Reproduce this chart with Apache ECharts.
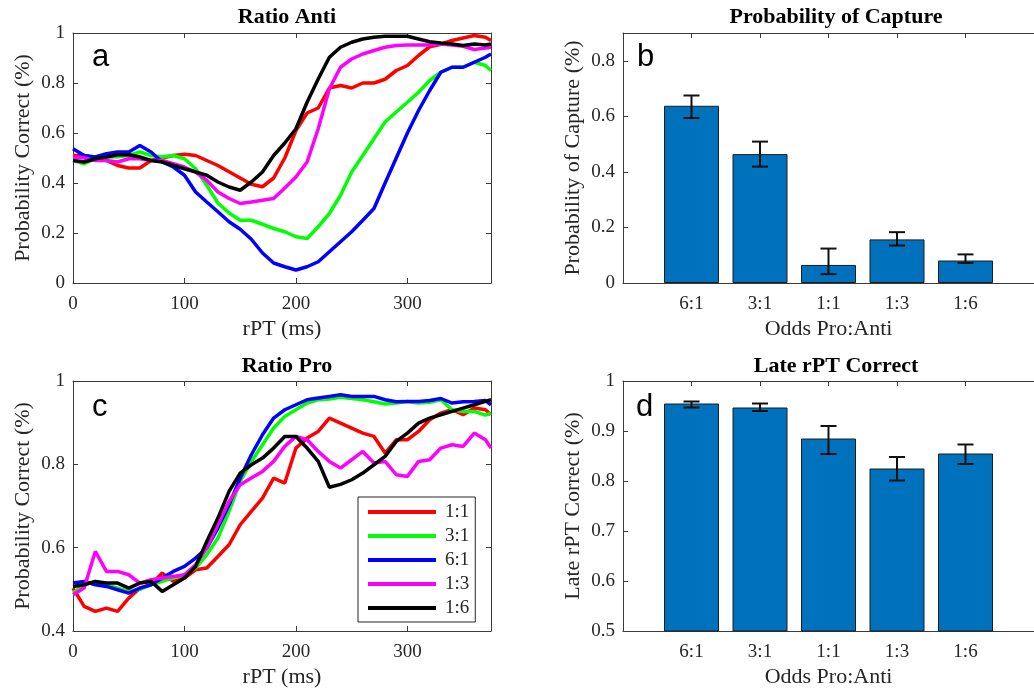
<!DOCTYPE html>
<html>
<head>
<meta charset="utf-8">
<title>Ratio Anti / Pro</title>
<script src="https://cdn.jsdelivr.net/npm/echarts@6/dist/echarts.min.js"></script>
<style>
  html, body { margin: 0; padding: 0; background: #fff; }
  #chart { width: 1034px; height: 691px; }
</style>
</head>
<body>
<div id="chart"></div>
<script>
// time axis shared by the rPT curves (ms)
const rptMs = [0, 10, 20, 30, 40, 50, 60, 70, 80, 90, 100, 110, 120, 130, 140, 150, 160, 170, 180, 190,
  200, 210, 220, 230, 240, 250, 260, 270, 280, 290, 300, 310, 320, 330, 340, 350, 360, 370, 375];

// panel a - Ratio Anti
const antiR11 = [0.51, 0.51, 0.50, 0.49, 0.47, 0.46, 0.46, 0.49, 0.50, 0.51, 0.515, 0.51, 0.49, 0.47, 0.445, 0.42, 0.395, 0.385, 0.42, 0.50,
  0.61, 0.68, 0.70, 0.78, 0.79, 0.78, 0.80, 0.80, 0.815, 0.85, 0.87, 0.91, 0.945, 0.955, 0.97, 0.98, 0.99, 0.983, 0.97];
const antiR31 = [0.49, 0.477, 0.497, 0.504, 0.505, 0.51, 0.524, 0.51, 0.504, 0.51, 0.497, 0.457, 0.391, 0.32, 0.28, 0.251, 0.251, 0.235, 0.218, 0.205,
  0.185, 0.178, 0.225, 0.278, 0.351, 0.444, 0.51, 0.577, 0.644, 0.684, 0.723, 0.763, 0.81, 0.843, 0.863, 0.863, 0.883, 0.87, 0.85];
const antiR61 = [0.537, 0.51, 0.504, 0.517, 0.524, 0.524, 0.55, 0.524, 0.484, 0.464, 0.431, 0.364, 0.324, 0.285, 0.245, 0.215, 0.175, 0.12, 0.08, 0.065,
  0.052, 0.065, 0.085, 0.125, 0.165, 0.205, 0.251, 0.298, 0.40, 0.50, 0.60, 0.69, 0.77, 0.843, 0.863, 0.863, 0.883, 0.903, 0.916];
const antiR13 = [0.504, 0.50, 0.49, 0.49, 0.484, 0.497, 0.497, 0.49, 0.49, 0.477, 0.464, 0.444, 0.411, 0.364, 0.338, 0.318, 0.324, 0.331, 0.338, 0.38,
  0.424, 0.484, 0.617, 0.777, 0.863, 0.896, 0.916, 0.93, 0.943, 0.95, 0.952, 0.952, 0.952, 0.956, 0.952, 0.947, 0.934, 0.94, 0.943];
const antiR16 = [0.49, 0.484, 0.497, 0.504, 0.513, 0.513, 0.504, 0.49, 0.484, 0.471, 0.457, 0.444, 0.431, 0.404, 0.384, 0.371, 0.404, 0.444, 0.51, 0.56,
  0.617, 0.723, 0.816, 0.903, 0.943, 0.963, 0.976, 0.983, 0.987, 0.987, 0.987, 0.976, 0.965, 0.96, 0.956, 0.95, 0.956, 0.952, 0.956];

// panel c - Ratio Pro
const proR11 = [0.503, 0.459, 0.447, 0.455, 0.447, 0.479, 0.503, 0.511, 0.539, 0.519, 0.527, 0.547, 0.551, 0.579, 0.607, 0.655, 0.687, 0.719, 0.767, 0.755,
  0.839, 0.863, 0.879, 0.911, 0.899, 0.887, 0.875, 0.867, 0.827, 0.859, 0.859, 0.879, 0.907, 0.923, 0.931, 0.919, 0.935, 0.931, 0.919];
const proR31 = [0.491, 0.511, 0.519, 0.511, 0.503, 0.495, 0.50, 0.511, 0.519, 0.527, 0.535, 0.551, 0.583, 0.623, 0.687, 0.759, 0.807, 0.847, 0.887, 0.915,
  0.931, 0.947, 0.955, 0.957, 0.961, 0.958, 0.955, 0.95, 0.945, 0.947, 0.951, 0.947, 0.949, 0.955, 0.931, 0.927, 0.927, 0.918, 0.923];
const proR61 = [0.515, 0.519, 0.511, 0.507, 0.499, 0.491, 0.503, 0.511, 0.527, 0.543, 0.555, 0.575, 0.599, 0.647, 0.703, 0.767, 0.823, 0.871, 0.911, 0.931,
  0.943, 0.955, 0.959, 0.963, 0.967, 0.963, 0.963, 0.963, 0.955, 0.95, 0.951, 0.951, 0.953, 0.958, 0.947, 0.95, 0.951, 0.953, 0.943];
const proR13 = [0.487, 0.503, 0.591, 0.543, 0.543, 0.535, 0.515, 0.523, 0.527, 0.531, 0.535, 0.559, 0.599, 0.655, 0.711, 0.751, 0.767, 0.783, 0.807, 0.843,
  0.867, 0.859, 0.831, 0.807, 0.791, 0.811, 0.831, 0.803, 0.807, 0.775, 0.771, 0.807, 0.811, 0.839, 0.847, 0.843, 0.875, 0.859, 0.839];
const proR16 = [0.507, 0.511, 0.519, 0.515, 0.515, 0.503, 0.515, 0.519, 0.495, 0.511, 0.527, 0.555, 0.615, 0.671, 0.735, 0.779, 0.799, 0.815, 0.839, 0.867,
  0.867, 0.839, 0.807, 0.745, 0.752, 0.763, 0.779, 0.799, 0.819, 0.855, 0.875, 0.899, 0.911, 0.919, 0.927, 0.935, 0.943, 0.951, 0.955];

// bar panels
const oddsLabels = ['6:1', '3:1', '1:1', '1:3', '1:6'];
const captureMean = [0.638, 0.464, 0.065, 0.157, 0.081];
const captureLow = [0.594, 0.419, 0.032, 0.135, 0.072];
const captureHigh = [0.675, 0.509, 0.124, 0.183, 0.103];
const lateMean = [0.955, 0.947, 0.885, 0.825, 0.855];
const lateLow = [0.947, 0.940, 0.854, 0.801, 0.834];
const lateHigh = [0.959, 0.955, 0.910, 0.848, 0.873];

const serif = 'Liberation Serif';
const axisCol = '#3a3a3a';
const textCol = '#262626';

const chart = echarts.init(document.getElementById('chart'));

function bottomX(gridIndex, min, max, ticks, fmt, name) {
  return {
    type: 'value', gridIndex, min, max, position: 'bottom',
    name, nameLocation: 'middle', nameGap: 35,
    nameTextStyle: { fontFamily: serif, fontSize: 22, color: textCol },
    axisLine: { show: true, onZero: false, lineStyle: { color: axisCol, width: 1 } },
    axisTick: { show: true, inside: true, length: 5, customValues: ticks, lineStyle: { color: axisCol } },
    axisLabel: { customValues: ticks, formatter: fmt, fontFamily: serif, fontSize: 19, color: textCol, margin: 12 },
    splitLine: { show: false }
  };
}
function topX(gridIndex, min, max, ticks) {
  return {
    type: 'value', gridIndex, min, max, position: 'top',
    axisLine: { show: true, onZero: false, lineStyle: { color: axisCol, width: 1 } },
    axisTick: { show: true, inside: true, length: 5, customValues: ticks, lineStyle: { color: axisCol } },
    axisLabel: { show: false },
    splitLine: { show: false }
  };
}
function leftY(gridIndex, min, max, ticks, name) {
  return {
    type: 'value', gridIndex, min, max, position: 'left',
    name, nameLocation: 'middle', nameGap: 39,
    nameTextStyle: { fontFamily: serif, fontSize: 22, color: textCol },
    axisLine: { show: true, onZero: false, lineStyle: { color: axisCol, width: 1 } },
    axisTick: { show: true, inside: true, length: 5, customValues: ticks, lineStyle: { color: axisCol } },
    axisLabel: { customValues: ticks, fontFamily: serif, fontSize: 19, color: textCol, margin: 8 },
    splitLine: { show: false }
  };
}
function rightY(gridIndex, min, max, ticks) {
  return {
    type: 'value', gridIndex, min, max, position: 'right',
    axisLine: { show: true, onZero: false, lineStyle: { color: axisCol, width: 1 } },
    axisTick: { show: true, inside: true, length: 5, customValues: ticks, lineStyle: { color: axisCol } },
    axisLabel: { show: false },
    splitLine: { show: false }
  };
}

function lineSeries(name, values, color, xi, yi) {
  return {
    type: 'line', name, xAxisIndex: xi, yAxisIndex: yi,
    data: rptMs.map((t, i) => [t, values[i]]),
    showSymbol: false, symbol: 'none',
    lineStyle: { color, width: 3.5 }, itemStyle: { color },
    animation: false
  };
}

function barSeries(values, xi, yi) {
  return {
    type: 'bar', xAxisIndex: xi, yAxisIndex: yi,
    data: values.map((v, i) => [i + 1, v]),
    barWidth: 55,
    itemStyle: { color: '#0072BD', borderColor: '#1d1d1d', borderWidth: 1 },
    animation: false
  };
}

function errorSeries(low, high, xi, yi) {
  return {
    type: 'custom', xAxisIndex: xi, yAxisIndex: yi, z: 5,
    data: low.map((v, i) => [i + 1, v, high[i]]),
    encode: { x: 0, y: [1, 2] },
    renderItem(params, api) {
      const x = api.value(0);
      const lo = api.coord([x, api.value(1)]);
      const hi = api.coord([x, api.value(2)]);
      const w = 8;
      const style = { stroke: '#111', lineWidth: 2 };
      return {
        type: 'group',
        children: [
          { type: 'line', shape: { x1: lo[0], y1: lo[1], x2: hi[0], y2: hi[1] }, style },
          { type: 'line', shape: { x1: hi[0] - w, y1: hi[1], x2: hi[0] + w, y2: hi[1] }, style },
          { type: 'line', shape: { x1: lo[0] - w, y1: lo[1], x2: lo[0] + w, y2: lo[1] }, style }
        ]
      };
    },
    animation: false
  };
}

const oddsFmt = v => oddsLabels[Math.round(v) - 1] || '';
const catTicks = [1, 2, 3, 4, 5];
const names = ['1:1', '3:1', '6:1', '1:3', '1:6'];
const colors = ['#ff0000', '#00ff00', '#0000ff', '#ff00ff', '#000000'];
const antiSets = [antiR11, antiR31, antiR61, antiR13, antiR16];
const proSets = [proR11, proR31, proR61, proR13, proR16];

const titleStyle = { fontFamily: serif, fontSize: 22, fontWeight: 'bold', color: '#000' };
const letterStyle = { fontFamily: 'Liberation Sans', fontSize: 31, fill: '#000', verticalAlign: 'middle' };

const option = {
  backgroundColor: '#fff',
  animation: false,
  title: [
    { text: 'Ratio Anti', left: 282, top: 1, textAlign: 'center', textStyle: titleStyle },
    { text: 'Probability of Capture', left: 831, top: 1, textAlign: 'center', textStyle: titleStyle },
    { text: 'Ratio Pro', left: 282, top: 350, textAlign: 'center', textStyle: titleStyle },
    { text: 'Late rPT Correct', left: 831, top: 350, textAlign: 'center', textStyle: titleStyle }
  ],
  grid: [
    { left: 73, top: 33, width: 418, height: 250 },
    { left: 623, top: 33, width: 416, height: 250 },
    { left: 73, top: 381, width: 418, height: 250 },
    { left: 623, top: 381, width: 416, height: 250 }
  ],
  xAxis: [
    bottomX(0, 0, 375, [0, 100, 200, 300], null, 'rPT (ms)'),
    topX(0, 0, 375, [100, 200, 300]),
    bottomX(1, 0, 6, catTicks, oddsFmt, 'Odds Pro:Anti'),
    topX(1, 0, 6, catTicks),
    bottomX(2, 0, 375, [0, 100, 200, 300], null, 'rPT (ms)'),
    topX(2, 0, 375, [100, 200, 300]),
    bottomX(3, 0, 6, catTicks, oddsFmt, 'Odds Pro:Anti'),
    topX(3, 0, 6, catTicks)
  ],
  yAxis: [
    leftY(0, 0, 1, [0, 0.2, 0.4, 0.6, 0.8, 1], 'Probability Correct (%)'),
    rightY(0, 0, 1, [0.2, 0.4, 0.6, 0.8]),
    leftY(1, 0, 0.9, [0, 0.2, 0.4, 0.6, 0.8], 'Probability of Capture (%)'),
    leftY(2, 0.4, 1, [0.4, 0.6, 0.8, 1], 'Probability Correct (%)'),
    rightY(2, 0.4, 1, [0.6, 0.8]),
    leftY(3, 0.5, 1, [0.5, 0.6, 0.7, 0.8, 0.9, 1], 'Late rPT Correct (%)')
  ],
  legend: {
    data: names,
    orient: 'vertical',
    left: 358, top: 497,
    icon: 'rect', itemWidth: 68, itemHeight: 4, itemGap: 4,
    borderColor: '#262626', borderWidth: 1,
    padding: [5, 6, 4, 10],
    textStyle: { fontFamily: serif, fontSize: 19, color: textCol, lineHeight: 20, padding: [0, 0, 0, 4] },
    selectedMode: false
  },
  graphic: [
    { type: 'text', left: 92, top: 42, style: Object.assign({ text: 'a' }, letterStyle) },
    { type: 'text', left: 637, top: 42, style: Object.assign({ text: 'b' }, letterStyle) },
    { type: 'text', left: 92, top: 392, style: Object.assign({ text: 'c' }, letterStyle) },
    { type: 'text', left: 636, top: 392, style: Object.assign({ text: 'd' }, letterStyle) }
  ],
  series: [
    ...antiSets.map((v, i) => lineSeries(names[i], v, colors[i], 0, 0)),
    barSeries(captureMean, 2, 2),
    errorSeries(captureLow, captureHigh, 2, 2),
    ...proSets.map((v, i) => lineSeries(names[i], v, colors[i], 4, 3)),
    barSeries(lateMean, 6, 5),
    errorSeries(lateLow, lateHigh, 6, 5)
  ]
};

chart.setOption(option);
</script>
</body>
</html>
